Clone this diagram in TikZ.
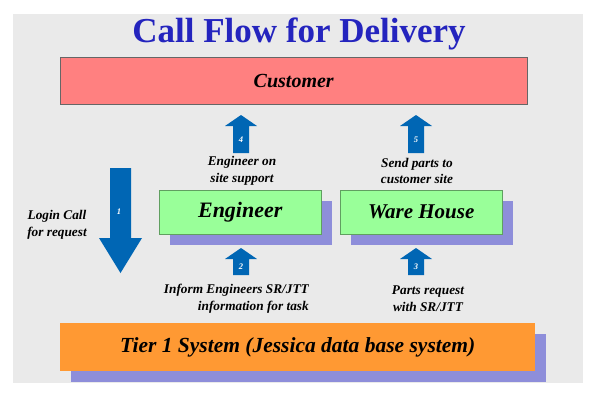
\documentclass[tikz,border=0pt]{standalone}
\usepackage{fontspec}
\setmainfont{Liberation Serif}
\usetikzlibrary{shadows}

\definecolor{bggray}{RGB}{234,234,234}
\definecolor{titleblue}{RGB}{36,36,190}
\definecolor{custred}{RGB}{255,128,128}
\definecolor{boxgreen}{RGB}{153,255,153}
\definecolor{shadowblue}{RGB}{142,142,218}
\definecolor{tierorange}{RGB}{255,153,51}
\definecolor{arrowblue}{RGB}{0,102,180}

% up block arrow: name, x, top, bottom, number
\newcommand{\upblk}[5]{%
  \fill[arrowblue] (#2-8,#4) -- (#2-8,#3+11) -- (#2-16,#3+11) -- (#2,#3)
    -- (#2+16,#3+11) -- (#2+8,#3+11) -- (#2+8,#4) -- cycle;
  \node[numlabel] (#1) at (#2,{(#3+11+#4)/2}) {#5};}

\begin{document}
\begin{tikzpicture}[x=1pt, y=-1pt,
    box/.style={anchor=north west, inner sep=0pt, line width=0.5pt,
      font=\bfseries\itshape},
    shadowed/.style={drop shadow={shadow xshift=11pt, shadow yshift=-11pt,
      fill=shadowblue, opacity=1}},
    note/.style={align=center, inner sep=0pt,
      font=\fontsize{13.3}{16.5}\selectfont\bfseries\itshape},
    numlabel/.style={text=white, inner sep=0pt,
      font=\fontsize{8.5}{8.5}\selectfont\bfseries\itshape}]
    \useasboundingbox (0,0) rectangle (600,400);
    \fill[bggray] (13,14) rectangle (583,383);

    \node[anchor=base, text=titleblue, font=\fontsize{35}{35}\selectfont\bfseries]
      (title) at (299,42) {Call Flow for Delivery};

    % boxes
    \node[box, draw=gray!80!black, fill=custred, minimum width=467, minimum height=47,
      font=\fontsize{20}{20}\selectfont\bfseries\itshape]
      (customer) at (60,57) {Customer};
    \node[box, shadowed, draw=green!25!gray, fill=boxgreen, minimum width=162,
      minimum height=44, font=\fontsize{22}{22}\selectfont\bfseries\itshape]
      (engineer) at (159,190) {Engineer};
    \node[box, shadowed, draw=green!25!gray, fill=boxgreen, minimum width=162,
      minimum height=44, font=\fontsize{21}{21}\selectfont\bfseries\itshape]
      (warehouse) at (340,190) {Ware House};
    \node[box, shadowed, fill=tierorange, minimum width=475, minimum height=48,
      font=\fontsize{21.5}{21.5}\selectfont\bfseries\itshape]
      (tier) at (60,323) {Tier 1 System (Jessica data base system)};

    % block arrows
    \fill[arrowblue] (110,168) -- (131,168) -- (131,238) -- (142,238) -- (120.5,273)
      -- (99,238) -- (110,238) -- cycle;
    \node[numlabel] (n1) at (119,212) {1};
    \upblk{n2}{241}{248}{275}{2}
    \upblk{n3}{416}{248}{275}{3}
    \upblk{n4}{241}{115}{153}{4}
    \upblk{n5}{416}{115}{153}{5}

    % labels
    \node[note] (login) at (57,225) {Login Call\\for request};
    \node[note] (onsite) at (242,171) {Engineer on\\site support};
    \node[note] (sendparts) at (417,171) {Send parts to\\customer site};
    \node[note, align=right, anchor=east] (inform) at (309,298.5)
      {Inform Engineers SR/JTT\\information for task};
    \node[note] (partsreq) at (428,298.5) {Parts request\\with SR/JTT};
  \end{tikzpicture}
\end{document}
